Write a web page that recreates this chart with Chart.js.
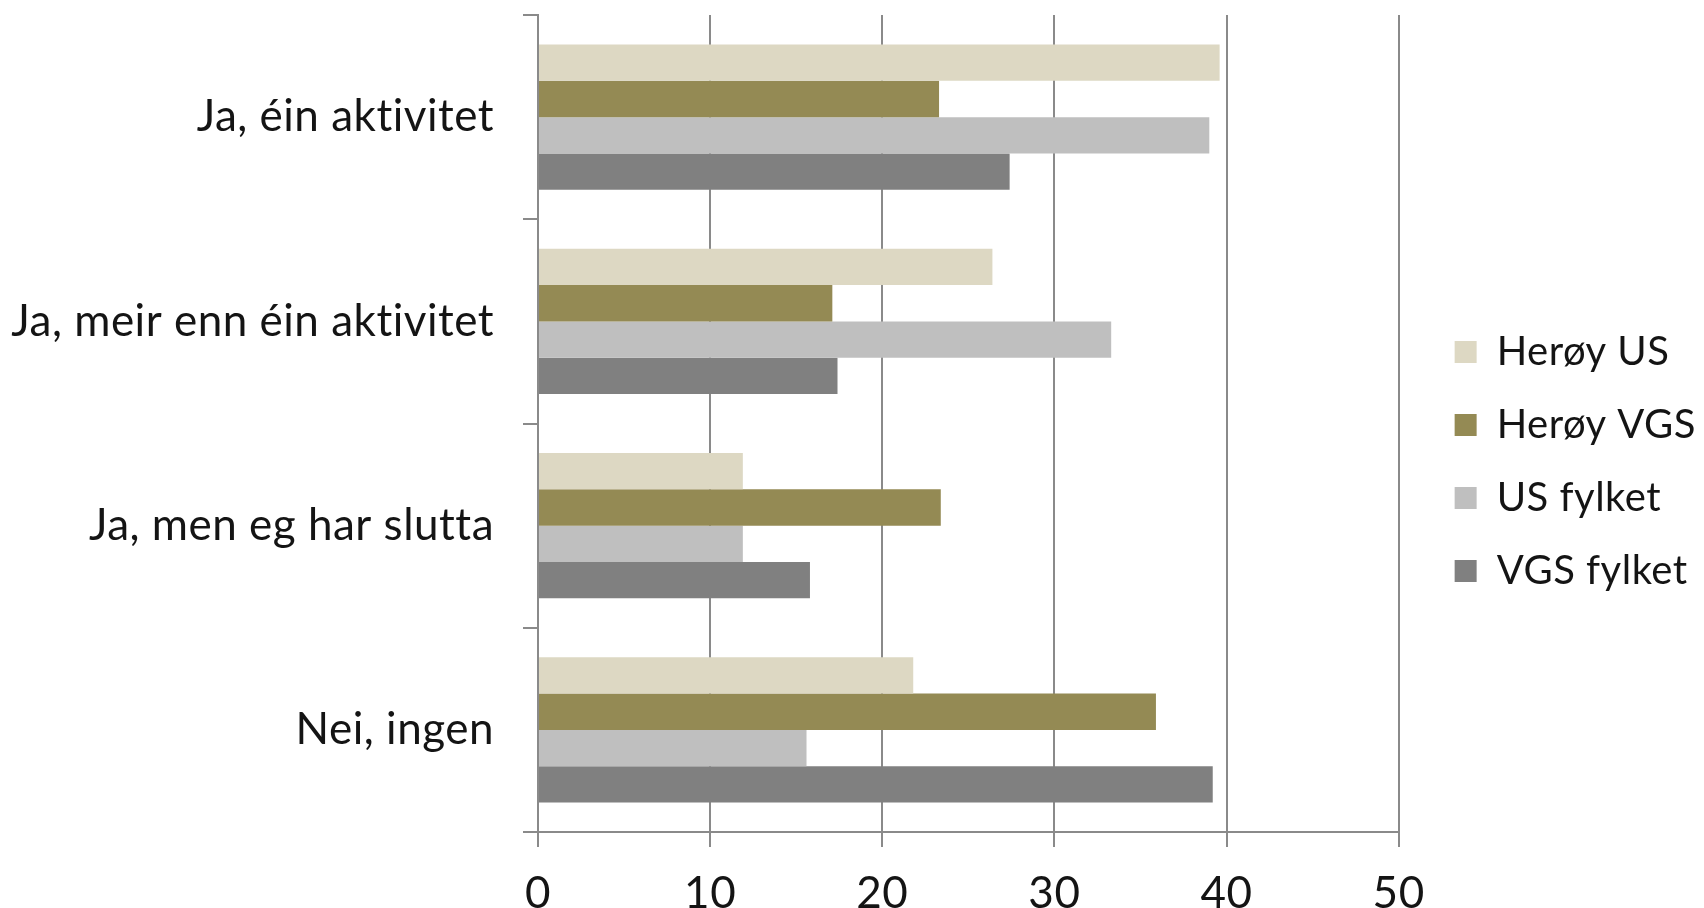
<!DOCTYPE html>
<html>
<head>
<meta charset="utf-8">
<script src="https://cdn.jsdelivr.net/npm/chart.js@4.4.0/dist/chart.umd.min.js"></script>
<style>
    html, body { margin: 0; padding: 0; background: #fff; }
    #wrap { width: 1704px; height: 908px; }
</style>
</head>
<body>
<div id="wrap"><canvas id="chart" width="1704" height="908"></canvas></div>
<script>
var categories = ['Ja, éin aktivitet', 'Ja, meir enn éin aktivitet', 'Ja, men eg har slutta', 'Nei, ingen'];
var seriesNames = ['Herøy US', 'Herøy VGS', 'US fylket', 'VGS fylket'];
var heroyUS = [39.6, 26.4, 11.9, 21.8];
var heroyVGS = [23.3, 17.1, 23.4, 35.9];
var usFylket = [39.0, 33.3, 11.9, 15.6];
var vgsFylket = [27.4, 17.4, 15.8, 39.2];
var xTicks = [0, 10, 20, 30, 40, 50];
var colors = ['#ddd8c3', '#948a54', '#bfbfbf', '#808080'];

var textColor = '#141414';
var lineColor = '#8a8a8a';
var font = { family: 'Lato', size: 44 };

// a little tracking, which also stops Lato from joining "ti"
var spacing = {
    id: 'spacing',
    beforeLayout: function (chart) { chart.ctx.letterSpacing = '0.5px'; },
    beforeDraw: function (chart) { chart.ctx.letterSpacing = '0.5px'; }
};

// push the legend right so the gap to the plot is wider than the row padding
var legendShift = {
    id: 'legendShift',
    afterLayout: function (chart) {
        chart.legend.left += 23;
        chart.legend.right += 23;
    }
};

var values = [heroyUS, heroyVGS, usFylket, vgsFylket];
var datasets = [];
for (var i = 0; i < seriesNames.length; i++) {
    datasets.push({
        label: seriesNames[i],
        data: values[i],
        backgroundColor: colors[i],
        borderWidth: 0,
        barPercentage: 1,
        categoryPercentage: 0.71
    });
}

new Chart(document.getElementById('chart'), {
    type: 'bar',
    data: { labels: categories, datasets: datasets },
    plugins: [spacing, legendShift],
    options: {
        indexAxis: 'y',
        responsive: false,
        devicePixelRatio: 1,
        animation: false,
        layout: { padding: { top: 15, right: 21, bottom: 0, left: 0 } },
        plugins: {
            tooltip: { enabled: false },
            legend: {
                position: 'right',
                labels: {
                    font: { family: 'Lato', size: 40 },
                    color: textColor,
                    boxWidth: 22,
                    boxHeight: 22,
                    padding: 33
                }
            }
        },
        scales: {
            x: {
                min: 0,
                max: 50,
                ticks: { stepSize: 10, font: font, color: textColor, padding: 20 },
                grid: { color: lineColor, lineWidth: 2, tickLength: 15, tickColor: lineColor },
                border: { color: lineColor, width: 2 },
                afterFit: function (scale) { scale.height = 76; }
            },
            y: {
                ticks: { font: font, color: textColor, padding: 29 },
                grid: { drawOnChartArea: false, color: lineColor, lineWidth: 2, tickLength: 15 },
                border: { color: lineColor, width: 2 },
                afterFit: function (scale) {
                    scale.width = 538;
                    scale.paddingTop = 0;
                    scale.paddingBottom = 0;
                }
            }
        }
    }
});
</script>
</body>
</html>
